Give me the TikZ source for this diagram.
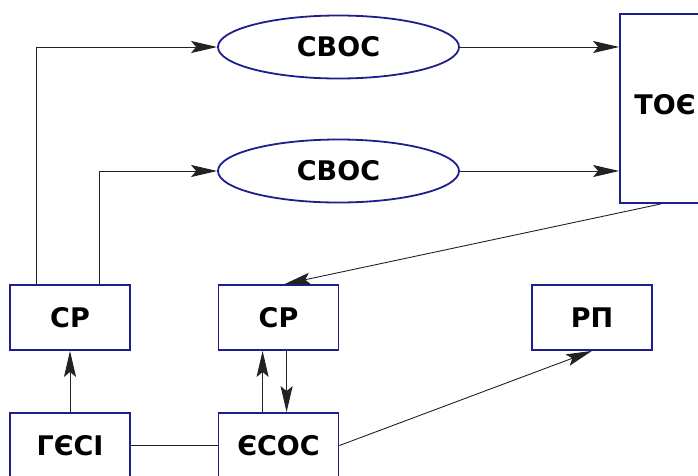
\documentclass[tikz,border=0pt]{standalone}
\usepackage{fontspec}
\setmainfont{DejaVu Sans}
\usetikzlibrary{arrows.meta,shapes.geometric,positioning}
\definecolor{cnavy}{HTML}{1E1E8C}
\definecolor{cink}{HTML}{222222}

\begin{document}
\begin{tikzpicture}[
    x=1pt, y=-1pt,
    >={Stealth[length=26pt, width=12pt, inset=5pt]},
    sig/.style={->, line width=0.9pt, draw=cink},
    lnk/.style={line width=0.9pt, draw=cink},
    blk/.style={draw=cnavy, line width=1.8pt, rectangle, align=center, inner sep=0pt,
                minimum height=65pt, minimum width=120pt, fill=white,
                font=\fontsize{27}{30}\selectfont\bfseries},
    ell/.style={draw=cnavy, line width=1.8pt, ellipse, inner sep=0pt,
                minimum height=63pt, minimum width=241pt, fill=white,
                font=\fontsize{27}{30}\selectfont\bfseries},
  ]
  \clip (0,0) rectangle (698,475);
  \node[ell] (sv1) at (338.5,47) {СВОС};
  \node[ell] (sv2) at (338.5,171) {СВОС};
  \node[blk, minimum width=90pt, minimum height=189pt] (toe) at (665,108.5) {\raisebox{9pt}{ТОЄ}};
  \node[blk] (cp1) at (70,317.5) {СР};
  \node[blk] (cp2) at (278.5,317.5) {СР};
  \node[blk] (rp) at (592,317.5) {РП};
  \node[blk] (hesi) at (70,445.5) {ГЄСІ};
  \node[blk] (esos) at (278.5,445.5) {ЄСОС};

  \draw[sig] ([xshift=27pt]cp1.north west) |- (sv1.west);
  \draw[sig] ([xshift=90pt]cp1.north west) |- (sv2.west);
  \draw[sig] (sv1.east) -- (sv1.east -| toe.west);
  \draw[sig] (sv2.east) -- (sv2.east -| toe.west);
  \draw[sig] ([xshift=42pt]toe.south west) -- ([xshift=67pt]cp2.north west);
  \draw[sig] (hesi.north) -- (cp1.south);
  \draw[lnk] (hesi.east) -- (esos.west);
  \draw[sig] ([xshift=45pt]esos.north west) -- ([xshift=45pt]cp2.south west);
  \draw[sig] ([xshift=69pt]cp2.south west) -- ([xshift=69pt]esos.north west);
  \draw[sig] (esos.east) -- (rp.south);
\end{tikzpicture}
\end{document}
